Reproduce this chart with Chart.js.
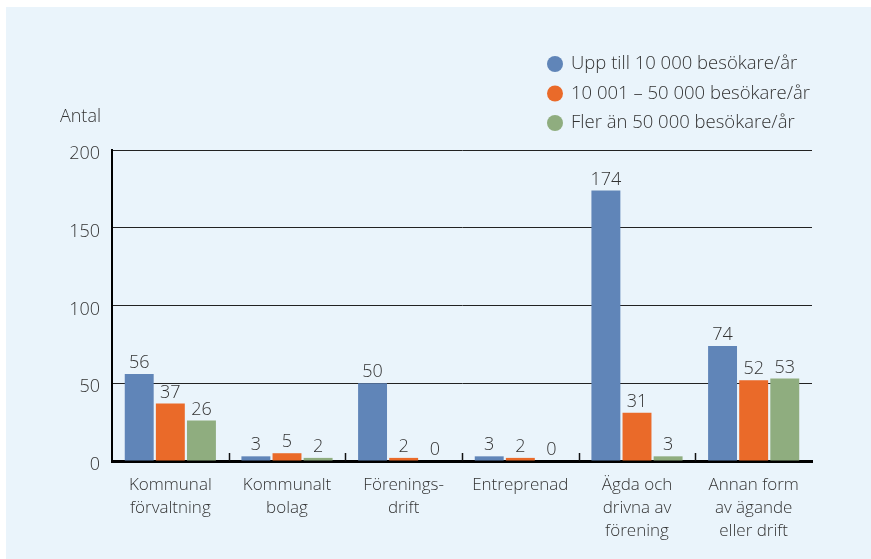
<!DOCTYPE html>
<html><head><meta charset="utf-8">
<script src="https://cdn.jsdelivr.net/npm/chart.js@4.4.1/dist/chart.umd.min.js"></script>
<style>
html,body{margin:0;padding:0;background:#fff;width:871px;height:559px;overflow:hidden}
#wrap{position:absolute;left:6px;top:7px;width:865px;height:552px;background:#eaf4fb}
canvas{display:block}
</style></head><body>
<div id="wrap"><canvas id="c" width="865" height="552"></canvas></div>
<script>
const categories = [["Kommunal","förvaltning"],["Kommunalt","bolag"],["Förenings-","drift"],["Entreprenad"],["Ägda och","drivna av","förening"],["Annan form","av ägande","eller drift"]];
const seriesNames = ["Upp till 10 000 besökare/år","10 001 – 50 000 besökare/år","Fler än 50 000 besökare/år"];
const upTo10k = [56,3,50,3,174,74];
const from10kTo50k = [37,5,2,2,31,52];
const over50k = [26,2,0,0,3,53];
const yTicks = [0,50,100,150,200];
const yTitle = "Antal";
const colors = ['#6085b8','#ea6a29','#8fad7f'];
const FONT = "'Open Sans', sans-serif";
const W = 300;
const TEXT = '#333333';

const extras = {
  id:'extras',
  afterDatasetsDraw(chart){
    const ctx = chart.ctx;
    ctx.save();
    ctx.font = W + " 18px " + FONT;
    ctx.fillStyle = TEXT;
    ctx.textAlign = 'center';
    ctx.textBaseline = 'bottom';
    chart.data.datasets.forEach((ds,di)=>{
      const meta = chart.getDatasetMeta(di);
      meta.data.forEach((bar,i)=>{
        ctx.fillText(String(ds.data[i]), bar.x, bar.y - 2);
      });
    });
    ctx.restore();
  },
  afterDraw(chart){
    const ctx = chart.ctx;
    const xs = chart.scales.x;
    const ca = chart.chartArea;
    ctx.save();
    ctx.strokeStyle = '#111';
    ctx.lineWidth = 1.5;
    for(let i=1;i<categories.length;i++){
      const px = Math.round((xs.getPixelForValue(i-1)+xs.getPixelForValue(i))/2)+0.5;
      ctx.beginPath();
      ctx.moveTo(px, ca.bottom);
      ctx.lineTo(px, ca.bottom-8);
      ctx.stroke();
    }
    ctx.font = W + " 18px " + FONT;
    ctx.fillStyle = TEXT;
    ctx.textAlign = 'right';
    ctx.textBaseline = 'middle';
    ctx.fillText(yTitle, 95, 110);
    ctx.font = W + " 18.5px " + FONT;
    ctx.textAlign = 'left';
    chart.data.datasets.forEach((ds,di)=>{
      const cy = 57 + di*29.5;
      ctx.fillStyle = ds.backgroundColor;
      ctx.beginPath();
      ctx.arc(549, cy, 8, 0, Math.PI*2);
      ctx.fill();
      ctx.fillStyle = TEXT;
      ctx.fillText(ds.label, 565, cy);
    });
    ctx.restore();
  }
};

new Chart(document.getElementById('c'), {
  type:'bar',
  data:{
    labels: categories,
    datasets:[
      {label:seriesNames[0], data:upTo10k, backgroundColor:colors[0]},
      {label:seriesNames[1], data:from10kTo50k, backgroundColor:colors[1]},
      {label:seriesNames[2], data:over50k, backgroundColor:colors[2]}
    ]
  },
  options:{
    responsive:false,
    devicePixelRatio:1,
    animation:false,
    categoryPercentage:0.8,
    barPercentage:0.93,
    layout:{padding:{top:143,right:59,left:0,bottom:0}},
    plugins:{legend:{display:false},tooltip:{enabled:false}},
    scales:{
      x:{
        grid:{display:true,drawOnChartArea:false,drawTicks:false},
        border:{display:true,color:'#000',width:3},
        ticks:{color:TEXT,font:{family:FONT,size:17,weight:W,lineHeight:1.35},padding:13,maxRotation:0,autoSkip:false},
        afterFit(s){ s.height = 98; }
      },
      y:{
        min:0,max:200,
        afterBuildTicks(s){ s.ticks = yTicks.map(v=>({value:v})); },
        grid:{color:'#222',lineWidth:1,drawTicks:false},
        border:{display:true,color:'#000',width:2},
        ticks:{color:TEXT,font:{family:FONT,size:18,weight:W},padding:12,labelOffset:4},
        afterFit(s){ s.width = 106; }
      }
    }
  },
  plugins:[extras]
});
</script>
</body></html>
